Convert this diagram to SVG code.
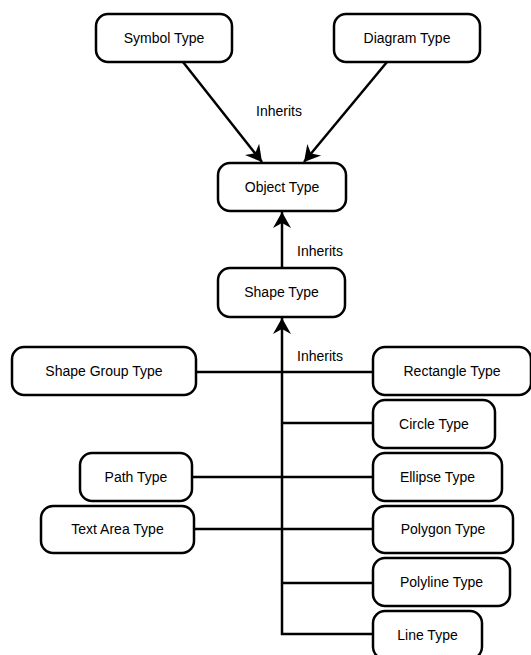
<svg xmlns="http://www.w3.org/2000/svg" width="531" height="655" viewBox="0 0 531 655">
<style>
.box{fill:#fff;stroke:#000;stroke-width:2.5}
.lbl{font-family:"Liberation Sans",Arial,sans-serif;font-size:14px;fill:#000;text-anchor:middle}
.edge{font-family:"Liberation Sans",Arial,sans-serif;font-size:14px;fill:#000}
.conn{fill:none;stroke:#000;stroke-width:2.5}
</style>
<defs>
<marker id="arr" markerUnits="userSpaceOnUse" markerWidth="20" markerHeight="20" viewBox="-16 -10 18 20" refX="0" refY="0" orient="auto">
<path d="M0,0 L-16,-9 L-11,0 L-16,9 Z" fill="#000"/>
</marker>
</defs>
<rect width="531" height="655" fill="#fff"/>
<g id="connectors">
<line class="conn" x1="183" y1="62" x2="262" y2="162" marker-end="url(#arr)"/>
<line class="conn" x1="387" y1="62" x2="304" y2="162" marker-end="url(#arr)"/>
<line class="conn" x1="282" y1="268" x2="282" y2="212" marker-end="url(#arr)"/>
<polyline class="conn" points="373,634 282,634 282,318" marker-end="url(#arr)"/>
<line class="conn" x1="196" y1="372" x2="373" y2="372"/>
<line class="conn" x1="282" y1="423" x2="373" y2="423"/>
<line class="conn" x1="192" y1="477" x2="373" y2="477"/>
<line class="conn" x1="194" y1="529" x2="373" y2="529"/>
<line class="conn" x1="282" y1="583" x2="373" y2="583"/>
<text class="edge" x="256" y="116">Inherits</text>
<text class="edge" x="297" y="256">Inherits</text>
<text class="edge" x="297" y="361">Inherits</text>
</g>
<g id="symbol"><rect class="box" x="96" y="14" width="136" height="48" rx="12"/><text class="lbl" x="164" y="43">Symbol Type</text></g>
<g id="diagram"><rect class="box" x="334" y="14" width="146" height="48" rx="12"/><text class="lbl" x="407" y="43">Diagram Type</text></g>
<g id="object"><rect class="box" x="218" y="163" width="128" height="48" rx="12"/><text class="lbl" x="282" y="192">Object Type</text></g>
<g id="shape"><rect class="box" x="218" y="268" width="127" height="49" rx="12"/><text class="lbl" x="281.5" y="297">Shape Type</text></g>
<g id="shapegroup"><rect class="box" x="12" y="347" width="184" height="48" rx="12"/><text class="lbl" x="104" y="376">Shape Group Type</text></g>
<g id="rectangle"><rect class="box" x="373" y="347" width="158" height="48" rx="12"/><text class="lbl" x="452" y="376">Rectangle Type</text></g>
<g id="circle"><rect class="box" x="373" y="400" width="122" height="48" rx="12"/><text class="lbl" x="434" y="429">Circle Type</text></g>
<g id="path"><rect class="box" x="80" y="453" width="112" height="48" rx="12"/><text class="lbl" x="136" y="482">Path Type</text></g>
<g id="ellipse"><rect class="box" x="373" y="453" width="129" height="48" rx="12"/><text class="lbl" x="437.5" y="482">Ellipse Type</text></g>
<g id="textarea"><rect class="box" x="41" y="506" width="153" height="47" rx="12"/><text class="lbl" x="117.5" y="534">Text Area Type</text></g>
<g id="polygon"><rect class="box" x="373" y="506" width="140" height="47" rx="12"/><text class="lbl" x="443" y="534">Polygon Type</text></g>
<g id="polyline"><rect class="box" x="373" y="558" width="137" height="48" rx="12"/><text class="lbl" x="441.5" y="587">Polyline Type</text></g>
<g id="line"><rect class="box" x="373" y="611" width="109" height="48" rx="12"/><text class="lbl" x="427.5" y="640">Line Type</text></g>
</svg>
